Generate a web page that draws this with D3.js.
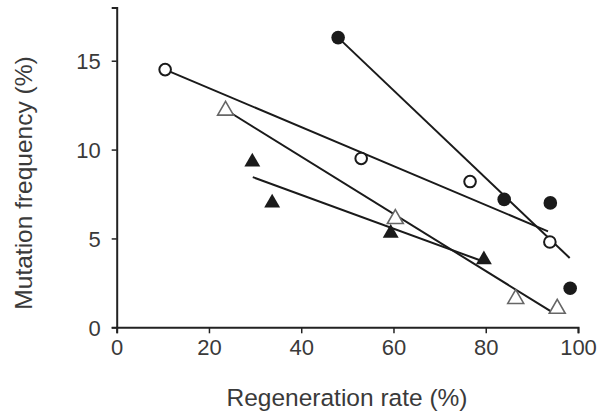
<!DOCTYPE html>
<html><head><meta charset="utf-8">
<script src="https://cdn.jsdelivr.net/npm/d3@7"></script>
<style>body{margin:0;background:#fff}svg{display:block}text{font-family:"Liberation Sans",Arial,sans-serif;fill:#3a3a3a}</style>
</head><body>
<svg id="c" width="607" height="418"></svg>
<script>
// Data (Regeneration rate %, Mutation frequency %)
const filledCircles = [[48,16.3],[84,7.2],[94,7.0],[98.3,2.2]];
const filledCirclesFit = [[48,16.3],[98.2,3.9]];
const openCircles = [[10.5,14.5],[53,9.5],[76.6,8.2],[93.9,4.8]];
const openCirclesFit = [[10.5,14.5],[93.5,5.4]];
const openTriangles = [[23.6,12.2],[60.4,6.1],[86.5,1.6],[95.5,1.05]];
const openTrianglesFit = [[24.5,12.1],[94.4,0.85]];
const filledTriangles = [[29.4,9.3],[33.7,7.0],[59.4,5.3],[79.6,3.8]];
const filledTrianglesFit = [[29.5,8.45],[79.5,3.7]];
const xTicks = [0,20,40,60,80,100];
const yTicks = [0,5,10,15];
const xTitle = "Regeneration rate (%)";
const yTitle = "Mutation frequency (%)";

const svg = d3.select("#c");
const x = d3.scaleLinear().domain([0,100]).range([116.7,578]);
const y = d3.scaleLinear().domain([0,18]).range([327.3,7.4]);

const axCol = "#222";
const xAxis = svg.append("g").attr("transform","translate(0,327.3)")
  .call(d3.axisBottom(x).tickValues(xTicks).tickSizeOuter(0).tickSize(6).tickPadding(6));
const yAxis = svg.append("g").attr("transform","translate(116.7,0)")
  .call(d3.axisLeft(y).tickValues(yTicks).tickSizeOuter(0).tickSize(5).tickPadding(11));
[xAxis,yAxis].forEach(a=>{
  a.select(".domain").attr("stroke",axCol).attr("stroke-width",2);
  a.selectAll(".tick line").attr("stroke",axCol).attr("stroke-width",1.5);
  a.selectAll(".tick text").style("font-size","22px").attr("fill","#3a3a3a");
});
yAxis.selectAll(".tick text").attr("dy","0.36em");

svg.append("text").attr("x",347).attr("y",406).attr("text-anchor","middle")
  .style("font-size","24.5px").text(xTitle);
svg.append("text").attr("transform","translate(32,183) rotate(-90)").attr("text-anchor","middle")
  .style("font-size","24.5px").text(yTitle);

const line = d3.line().x(d=>x(d[0])).y(d=>y(d[1]));
[filledCirclesFit,openCirclesFit,openTrianglesFit,filledTrianglesFit].forEach(f=>{
  svg.append("path").attr("d",line(f)).attr("fill","none").attr("stroke","#1a1a1a").attr("stroke-width",2);
});

const tri = d3.symbol().type(d3.symbolTriangle).size(110);
svg.selectAll(".fc").data(filledCircles).join("circle")
  .attr("cx",d=>x(d[0])).attr("cy",d=>y(d[1])).attr("r",6.8).attr("fill","#1a1a1a");
svg.selectAll(".oc").data(openCircles).join("circle")
  .attr("cx",d=>x(d[0])).attr("cy",d=>y(d[1])).attr("r",5.8).attr("fill","#fff")
  .attr("stroke","#1a1a1a").attr("stroke-width",2);
svg.selectAll(".ot").data(openTriangles).join("path")
  .attr("d",tri).attr("transform",d=>`translate(${x(d[0])},${y(d[1])})`)
  .attr("fill","#fff").attr("stroke","#666").attr("stroke-width",1.6);
svg.selectAll(".ft").data(filledTriangles).join("path")
  .attr("d",tri).attr("transform",d=>`translate(${x(d[0])},${y(d[1])})`)
  .attr("fill","#1a1a1a");
</script>
</body></html>
